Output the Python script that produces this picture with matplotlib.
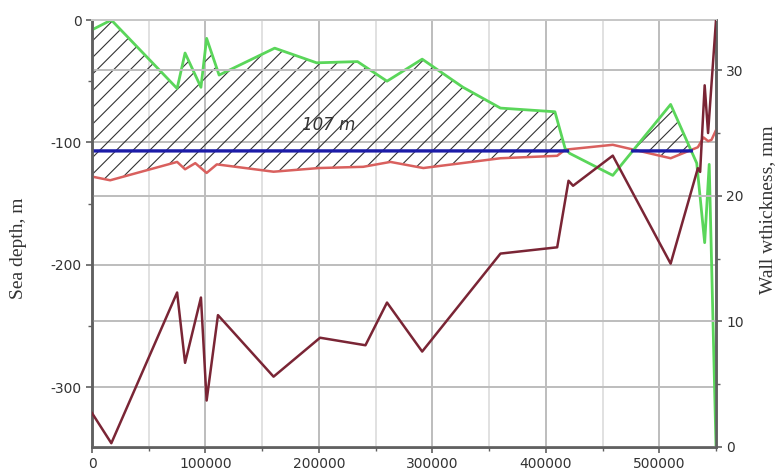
import numpy as np
import matplotlib
matplotlib.use("Agg")
import matplotlib.pyplot as plt
from matplotlib.ticker import MultipleLocator

# Distance along the route, m
x_green = [0, 17000, 75000, 82000, 96000, 101000, 112000, 161000, 198000, 234000,
           260000, 291000, 327000, 360000, 408000, 417000, 421000, 459000, 510000,
           533000, 540000, 544000, 550000]
# Sea depth profile, m
green = [-8, 0, -56, -27, -55, -15, -45, -23, -35, -34,
         -50, -32, -55, -72, -75, -105, -109, -127, -69,
         -117, -182, -118, -349]

x_red = [0, 16000, 75000, 82000, 91000, 101000, 110000, 160000, 200000, 239000,
         263000, 292000, 360000, 410000, 417000, 459000, 510000, 534000, 539000,
         543000, 546000, 550000]
red = [-128, -131, -116, -122, -117, -125, -118, -124, -121, -120,
       -116, -121, -113, -111, -106, -102, -113, -104, -96,
       -99, -98, -90]

# Wall thickness, mm
x_wall = [0, 17000, 75000, 82000, 96000, 101000, 111000, 160000, 201000, 241000,
          260000, 291000, 360000, 410000, 420000, 424000, 459000, 510000, 534000,
          536000, 540000, 543000, 550000]
wall = [2.7, 0.3, 12.3, 6.7, 11.9, 3.7, 10.5, 5.6, 8.7, 8.1,
        11.5, 7.6, 15.4, 15.9, 21.2, 20.8, 23.2, 14.6, 22.2,
        21.9, 28.8, 25.0, 34.0]

level = -107
level_label = "107 m"

x_ticks = [0, 100000, 200000, 300000, 400000, 500000]
depth_ticks = [0, -100, -200, -300]
wall_ticks = [0, 10, 20, 30]

plt.rcParams["hatch.linewidth"] = 0.8
plt.rcParams["hatch.color"] = "#333333"

fig = plt.figure(figsize=(7.76, 4.74), dpi=100)
ax = fig.add_axes([0.1186, 0.057, 0.8041, 0.9008])

xs = np.linspace(min(x_green), max(x_green), 6000)
g = np.interp(xs, x_green, green)
r = np.interp(xs, x_red, red)

grid_major = "#bdbdbd"
grid_minor = "#dcdcdc"

ax.set_xlim(min(x_green), max(x_green))
ax.set_ylim(min(green), 0)

ax.xaxis.set_minor_locator(MultipleLocator(50000))
ax.yaxis.set_minor_locator(MultipleLocator(50))
ax.set_xticks(x_ticks)
ax.set_yticks(depth_ticks)
ax.grid(which="major", axis="x", color=grid_major, lw=1.4)
ax.grid(which="minor", axis="x", color=grid_minor, lw=1.2)
ax.grid(which="major", axis="y", color=grid_major, lw=1.4)
ax.set_axisbelow(True)

# hatched region between the seabed and the lower profile
ax.fill_between(xs, g, r, where=g > r, interpolate=True, facecolor="none",
                edgecolor="#333333", hatch="//", lw=0)

ax.plot(x_red, red, color="#d9605e", lw=1.8, zorder=3)
ax.plot(x_green, green, color="#5ad65a", lw=2.0, zorder=4)
blue = np.where(g >= level, level, np.nan)
ax.plot(xs, blue, color="#1c1ca8", lw=2.4, zorder=5)

ax.text(209000, -86, level_label, fontsize=12, style="italic", color="#333333",
        ha="center", va="center", zorder=6)

ax2 = ax.twinx()
ax2.set_ylim(0, max(wall))
ax2.yaxis.set_minor_locator(MultipleLocator(5))
ax2.set_yticks(wall_ticks)
ax2.grid(which="major", axis="y", color=grid_major, lw=1.4)
ax2.set_axisbelow(True)
ax2.plot(x_wall, wall, color="#7a2535", lw=1.8, zorder=3)

for a in (ax, ax2):
    for side in ("left", "bottom", "right"):
        a.spines[side].set_color("#606060")
        a.spines[side].set_linewidth(1.8)
    a.spines["top"].set_color("#c8c8c8")
    a.spines["top"].set_linewidth(1.4)
    a.tick_params(which="major", length=4, width=1.2, color="#606060",
                  labelsize=10, labelcolor="#333333")
    a.tick_params(which="minor", length=3, width=1.0, color="#606060")

ax.set_xticklabels([str(t) for t in x_ticks])
ax.set_yticklabels([str(t) for t in depth_ticks])

label_font = dict(family="Liberation Serif", fontsize=14, color="#333333")
ax.set_ylabel("Sea depth, m", **label_font)
ax2.set_ylabel("Wall wthickness, mm", **label_font)
ax.yaxis.set_label_coords(-0.104, 0.466)
ax2.yaxis.set_label_coords(1.069, 0.555)

fig.savefig("out.png", dpi=100)
